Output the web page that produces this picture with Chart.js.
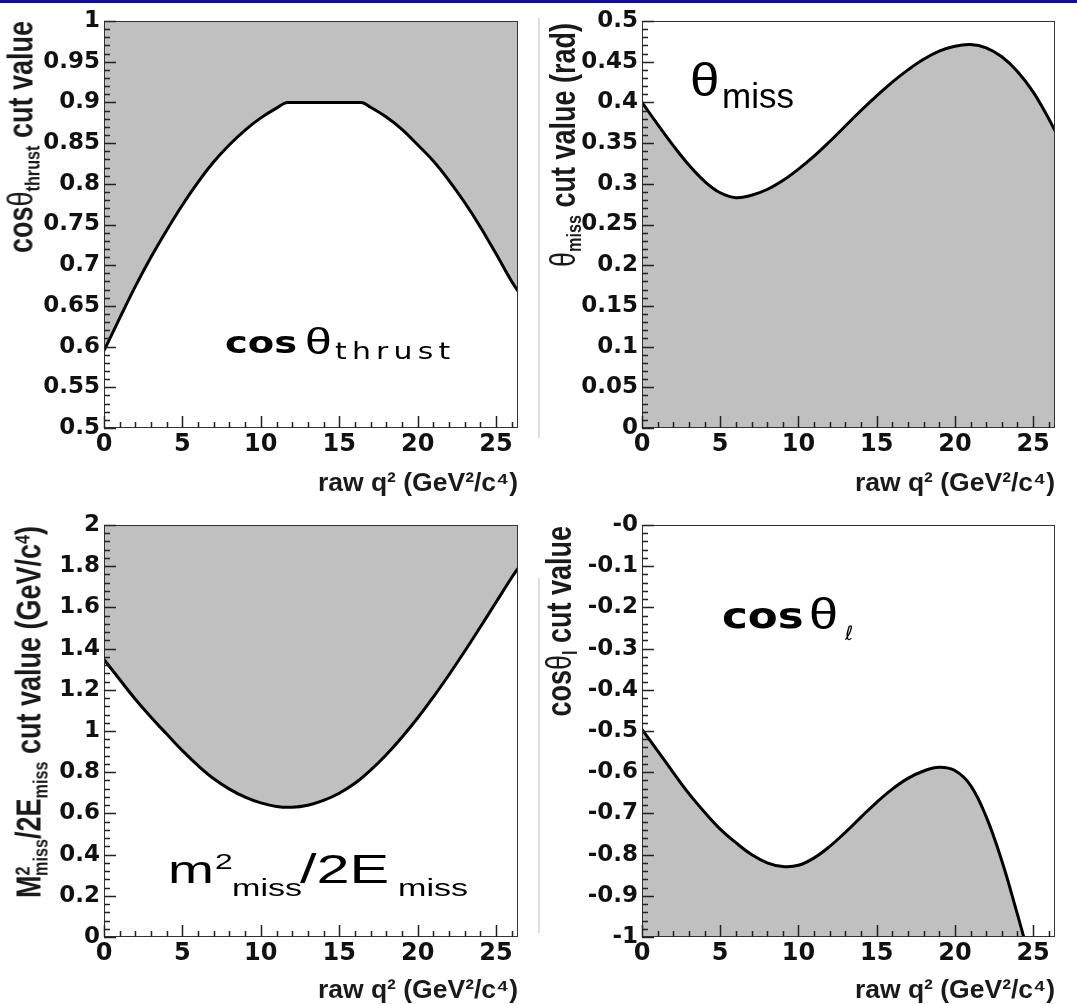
<!DOCTYPE html>
<html>
<head>
<meta charset="utf-8">
<title>Cut values vs raw q2</title>
<script src="https://cdn.jsdelivr.net/npm/chart.js@4.4.1/dist/chart.umd.min.js"></script>
<style>
  html, body { margin: 0; padding: 0; background: #fff; }
  #page { position: relative; width: 1077px; height: 1004px; overflow: hidden; }
  .topbar { position: absolute; left: 0; top: 0; width: 1077px; height: 3px; background: #10109a; }
  .sep { position: absolute; left: 538px; width: 2px; background: #e2dcea; }
  canvas { position: absolute; }
  .yt { position: absolute; width: 400px; font: bold 27px "Liberation Sans", Arial, sans-serif; color: #1a1a1a;
        line-height: 0; text-align: right; white-space: nowrap; transform-origin: 0 0; transform: rotate(-90deg) scaleY(1.3); }
  .yt .sb { font-size: 0.6em; position: relative; top: 0.3em; }
  .yt .sp { font-size: 0.6em; position: relative; top: -0.55em; }
  .yt .th { font-weight: normal; }
  .ann { position: absolute; line-height: 0; white-space: nowrap; color: #000; transform-origin: 0 0; }
  .cmc { font-family: "DejaVu Sans", sans-serif; }
  .hel { font-family: "Liberation Sans", Arial, sans-serif; }
</style>
</head>
<body>
<div id="page">
  <div class="topbar"></div>
  <div class="sep" style="top:18px;height:420px"></div>
  <div class="sep" style="top:578px;height:355px"></div>

  <canvas id="thrustChart" width="538" height="500" style="left:0;top:0"></canvas>
  <canvas id="thetaChart" width="539" height="500" style="left:538px;top:0"></canvas>
  <canvas id="missChart" width="538" height="504" style="left:0;top:500px"></canvas>
  <canvas id="leptonChart" width="539" height="504" style="left:538px;top:500px"></canvas>

  <!-- y axis titles (rotated) -->
  <div class="yt" style="left:20.5px;top:421px">cos<span class="th">θ</span><span class="sb">thrust</span> cut value</div>
  <div class="yt" style="left:562.5px;top:423px"><span class="th">θ</span><span class="sb">miss</span> cut value (rad)</div>
  <div class="yt" style="left:28.5px;top:926px">M<span class="sp">2</span><span class="sb" style="margin-left:-9.5px">miss</span>/2E<span class="sb">miss</span> cut value (GeV/c<span class="sp">4</span>)</div>
  <div class="yt" style="left:558.5px;top:926px">cos<span class="th">θ</span><span class="sb">l</span> cut value</div>

  <!-- in-plot labels -->
  <div class="ann cmc" style="left:225px;top:342.6px;font-size:30px;font-weight:bold;transform:scaleX(1.28)">cos</div>
  <div class="ann hel" style="left:305px;top:342.2px;font-size:37px;transform:scaleX(1.3)">θ</div>
  <div class="ann cmc" style="left:335px;top:351px;font-size:23px;letter-spacing:4px;transform:scaleX(1.3)">thrust</div>

  <div class="ann hel" style="left:690px;top:80px;font-size:46px;transform:scaleX(1.15)">θ</div>
  <div class="ann hel" style="left:722px;top:95.9px;font-size:35px">miss</div>

  <div class="ann hel" style="left:168px;top:869.8px;font-size:38px;transform:scaleX(1.45)">m</div>
  <div class="ann hel" style="left:215px;top:862.4px;font-size:22px;transform:scaleX(1.45)">2</div>
  <div class="ann hel" style="left:232px;top:887.9px;font-size:23.5px;transform:scaleX(1.45)">miss</div>
  <div class="ann hel" style="left:300px;top:868.8px;font-size:41px;transform:scaleX(1.45)">/2E</div>
  <div class="ann hel" style="left:398px;top:887.9px;font-size:23.5px;transform:scaleX(1.45)">miss</div>

  <div class="ann cmc" style="left:722px;top:615.5px;font-size:36px;font-weight:bold;transform:scaleX(1.21)">cos</div>
  <div class="ann hel" style="left:809px;top:614.4px;font-size:45px;transform:scaleX(1.16)">θ</div>
  <div class="ann cmc" style="left:845px;top:633px;font-size:20px;font-style:italic">ℓ</div>
</div>

<script>
// raw q^2 (GeV^2/c^4) sample points and cut values
const thrustQ2 = [0, 1, 2, 3, 4, 5, 6, 7, 8, 9, 10, 11, 11.7, 12, 13, 14, 15, 16, 16.4, 17, 18, 19, 20, 21, 22, 23, 24, 25, 26, 26.4]
const thrustCut = [0.595, 0.635, 0.674, 0.710, 0.743, 0.774, 0.802, 0.827, 0.848, 0.866, 0.881, 0.893, 0.9, 0.9, 0.9, 0.9, 0.9, 0.9, 0.9, 0.894, 0.882, 0.867, 0.848, 0.828, 0.804, 0.777, 0.747, 0.714, 0.680, 0.668]

const thetaQ2 = [0, 1, 2, 3, 4, 5, 6, 7, 8, 9, 10, 11, 12, 13, 14, 15, 16, 17, 18, 19, 20, 21, 22, 23, 24, 25, 26, 26.4]
const thetaCut = [0.400, 0.373, 0.347, 0.323, 0.303, 0.289, 0.283, 0.286, 0.293, 0.304, 0.318, 0.334, 0.352, 0.371, 0.390, 0.408, 0.425, 0.440, 0.453, 0.463, 0.469, 0.471, 0.467, 0.456, 0.438, 0.413, 0.380, 0.365]

const missQ2 = [0, 1, 2, 3, 4, 5, 6, 7, 8, 9, 10, 11, 12, 13, 14, 15, 16, 17, 18, 19, 20, 21, 22, 23, 24, 25, 26, 26.4]
const missCut = [1.347, 1.250, 1.154, 1.067, 0.985, 0.905, 0.832, 0.768, 0.718, 0.679, 0.651, 0.634, 0.630, 0.640, 0.663, 0.698, 0.746, 0.810, 0.885, 0.970, 1.063, 1.165, 1.273, 1.387, 1.505, 1.625, 1.745, 1.790]

const leptonQ2 = [0, 1, 2, 3, 4, 5, 6, 7, 8, 9, 10, 11, 12, 13, 14, 15, 16, 17, 18, 19, 20, 21, 22, 23, 24, 24.4]
const leptonCut = [-0.496, -0.548, -0.601, -0.652, -0.697, -0.738, -0.771, -0.800, -0.820, -0.829, -0.826, -0.808, -0.780, -0.746, -0.709, -0.673, -0.641, -0.615, -0.597, -0.588, -0.596, -0.632, -0.708, -0.815, -0.945, -1.0]

const qMax = 26.4
const xTitle = "raw q² (GeV²/c⁴)"

const tickFont = { family: "DejaVu Sans", weight: "bold", size: 23 }
const xTickFont = { family: "DejaVu Sans", weight: "bold", size: 24 }
const titleFont = { family: "Liberation Sans", weight: "bold", size: 26.5, lineHeight: 1 }

// ROOT style frame with inward major/minor ticks
const rootFrame = {
  id: "rootFrame",
  afterDatasetsDraw(chart, args, o) {
    const { ctx, chartArea: a } = chart
    const x = chart.scales.x
    const y = chart.scales.y
    ctx.save()
    ctx.strokeStyle = "#333"
    ctx.lineWidth = 1
    ctx.strokeRect(a.left + 0.5, a.top + 0.5, a.right - a.left - 1, a.bottom - a.top - 1)
    ctx.lineWidth = 1.5
    ctx.strokeStyle = "#222"
    ctx.beginPath()
    const nx = Math.round((x.max - x.min) / o.xMinor)
    for (let i = 0; i <= nx; i++) {
      const v = x.min + i * o.xMinor
      if (v > x.max + 1e-9) break
      const px = Math.round(x.getPixelForValue(v)) + 0.5
      const len = i % o.xEvery === 0 ? 12 : 6
      ctx.moveTo(px, a.bottom)
      ctx.lineTo(px, a.bottom - len)
    }
    const ny = Math.round((y.max - y.min) / o.yMinor)
    for (let i = 0; i <= ny; i++) {
      const v = y.min + i * o.yMinor
      const py = Math.round(y.getPixelForValue(v)) + 0.5
      const len = i % o.yEvery === 0 ? 12 : 6
      ctx.moveTo(a.left, py)
      ctx.lineTo(a.left + len, py)
    }
    ctx.stroke()
    ctx.restore()
  },
}

function makePanel(canvasId, xs, ys, p) {
  const ctx = document.getElementById(canvasId).getContext("2d")
  return new Chart(ctx, {
    type: "line",
    data: {
      datasets: [
        {
          data: xs.map((x, i) => ({ x: x, y: ys[i] })),
          borderColor: "#000",
          borderWidth: 3,
          pointRadius: 0,
          backgroundColor: "#c0c0c0",
          fill: p.fill,
          cubicInterpolationMode: p.mode,
          tension: 0.4,
        },
      ],
    },
    options: {
      responsive: false,
      animation: false,
      devicePixelRatio: 1,
      layout: { padding: { top: p.top, right: p.right, bottom: 0, left: 0 } },
      plugins: {
        legend: { display: false },
        tooltip: { enabled: false },
        rootFrame: { xMinor: 1, xEvery: 5, yMinor: p.step / 5, yEvery: 5 },
      },
      scales: {
        x: {
          type: "linear",
          min: 0,
          max: qMax,
          grid: { display: false, drawTicks: false },
          border: { display: false },
          ticks: { stepSize: 5, includeBounds: false, font: xTickFont, color: "#111", padding: 2, maxRotation: 0, autoSkip: false },
          title: { display: true, text: xTitle, align: "end", font: titleFont, color: "#1a1a1a", padding: { top: 0, bottom: p.titlePad } },
          afterFit: (s) => { s.height = p.xHeight },
        },
        y: {
          type: "linear",
          min: p.min,
          max: p.max,
          grid: { display: false, drawTicks: false },
          border: { display: false },
          ticks: { stepSize: p.step, font: tickFont, color: "#111", padding: 4, autoSkip: false, callback: p.label },
          afterFit: (s) => { s.width = 104 },
        },
      },
    },
    plugins: [rootFrame],
  })
}

const fmt = (d) => (v) => String(parseFloat(Number(v).toFixed(d)))

makePanel("thrustChart", thrustQ2, thrustCut, {
  fill: "end", mode: "monotone", min: 0.5, max: 1, step: 0.05, label: fmt(2),
  top: 21, right: 20, xHeight: 72, titlePad: 3,
})
makePanel("thetaChart", thetaQ2, thetaCut, {
  fill: "start", mode: "default", min: 0, max: 0.5, step: 0.05, label: fmt(2),
  top: 21, right: 22, xHeight: 72, titlePad: 3,
})
makePanel("missChart", missQ2, missCut, {
  fill: "end", mode: "default", min: 0, max: 2, step: 0.2, label: fmt(1),
  top: 25, right: 20, xHeight: 67, titlePad: 0,
})
makePanel("leptonChart", leptonQ2, leptonCut, {
  fill: "start", mode: "default", min: -1, max: 0, step: 0.1,
  label: (v) => (Math.abs(v) < 1e-9 ? "-0" : fmt(1)(v)),
  top: 25, right: 22, xHeight: 67, titlePad: 0,
})
</script>
</body>
</html>
